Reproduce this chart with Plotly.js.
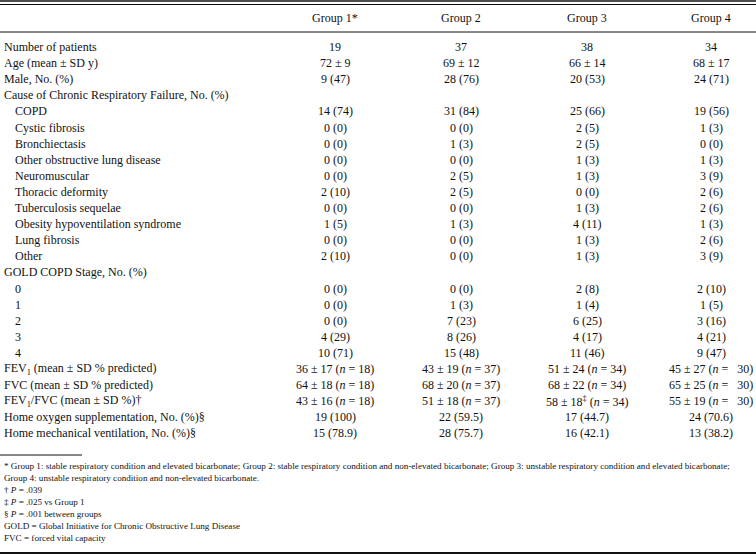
<!DOCTYPE html>
<html>
<head>
<meta charset="utf-8">
<script src="https://cdn.plot.ly/plotly-3.0.1.min.js"></script>
<style>html,body{margin:0;padding:0;background:#fff;}#chart{width:756px;height:555px;}</style>
</head>
<body>
<div id="chart"></div>
<script>
// ---------- DATA ----------
const groupHeaders = ['Group 1*', 'Group 2', 'Group 3', 'Group 4'];

const rowLabels = [
  'Number of patients',
  'Age (mean \u00b1 SD y)',
  'Male, No. (%)',
  'Cause of Chronic Respiratory Failure, No. (%)',
  'COPD',
  'Cystic fibrosis',
  'Bronchiectasis',
  'Other obstructive lung disease',
  'Neuromuscular',
  'Thoracic deformity',
  'Tuberculosis sequelae',
  'Obesity hypoventilation syndrome',
  'Lung fibrosis',
  'Other',
  'GOLD COPD Stage, No. (%)',
  '0',
  '1',
  '2',
  '3',
  '4',
  'FEV<sub>1</sub> (mean \u00b1 SD % predicted)',
  'FVC (mean \u00b1 SD % predicted)',
  'FEV<sub>1</sub>/FVC (mean \u00b1 SD %)\u2020',
  'Home oxygen supplementation, No. (%)\u00a7',
  'Home mechanical ventilation, No. (%)\u00a7'
];

// indented sub-rows belong to these two sections
const causeRows = ['COPD', 'Cystic fibrosis', 'Bronchiectasis', 'Other obstructive lung disease',
  'Neuromuscular', 'Thoracic deformity', 'Tuberculosis sequelae', 'Obesity hypoventilation syndrome',
  'Lung fibrosis', 'Other'];
const goldRows = ['0', '1', '2', '3', '4'];

const group1 = ['19', '72 \u00b1 9', '9 (47)', '',
  '14 (74)', '0 (0)', '0 (0)', '0 (0)', '0 (0)', '2 (10)', '0 (0)', '1 (5)', '0 (0)', '2 (10)',
  '', '0 (0)', '0 (0)', '0 (0)', '4 (29)', '10 (71)',
  '36 \u00b1 17 (<i>n</i> = 18)', '64 \u00b1 18 (<i>n</i> = 18)', '43 \u00b1 16 (<i>n</i> = 18)',
  '19 (100)', '15 (78.9)'];
const group2 = ['37', '69 \u00b1 12', '28 (76)', '',
  '31 (84)', '0 (0)', '1 (3)', '0 (0)', '2 (5)', '2 (5)', '0 (0)', '1 (3)', '0 (0)', '0 (0)',
  '', '0 (0)', '1 (3)', '7 (23)', '8 (26)', '15 (48)',
  '43 \u00b1 19 (<i>n</i> = 37)', '68 \u00b1 20 (<i>n</i> = 37)', '51 \u00b1 18 (<i>n</i> = 37)',
  '22 (59.5)', '28 (75.7)'];
const group3 = ['38', '66 \u00b1 14', '20 (53)', '',
  '25 (66)', '2 (5)', '2 (5)', '1 (3)', '1 (3)', '0 (0)', '1 (3)', '4 (11)', '1 (3)', '1 (3)',
  '', '2 (8)', '1 (4)', '6 (25)', '4 (17)', '11 (46)',
  '51 \u00b1 24 (<i>n</i> = 34)', '68 \u00b1 22 (<i>n</i> = 34)', '58 \u00b1 18<sup>\u2021</sup> (<i>n</i> = 34)',
  '17 (44.7)', '16 (42.1)'];
const group4 = ['34', '68 \u00b1 17', '24 (71)', '',
  '19 (56)', '1 (3)', '0 (0)', '1 (3)', '3 (9)', '2 (6)', '2 (6)', '1 (3)', '2 (6)', '3 (9)',
  '', '2 (10)', '1 (5)', '3 (16)', '4 (21)', '9 (47)',
  '45 \u00b1 27 (<i>n</i> =\u00a0\u00a0 30)', '65 \u00b1 25 (<i>n</i> =\u00a0\u00a0 30)', '55 \u00b1 19 (<i>n</i> =\u00a0\u00a0 30)',
  '24 (70.6)', '13 (38.2)'];

const footnotes = [
  '* Group 1: stable respiratory condition and elevated bicarbonate; Group 2: stable respiratory condition and non-elevated bicarbonate; Group 3: unstable respiratory condition and elevated bicarbonate;',
  'Group 4: unstable respiratory condition and non-elevated bicarbonate.',
  '\u2020 <i>P</i> = .039',
  '\u2021 <i>P</i> = .025 vs Group 1',
  '\u00a7 <i>P</i> = .001 between groups',
  'GOLD = Global Initiative for Chronic Obstructive Lung Disease',
  'FVC = forced vital capacity'
];

// ---------- LAYOUT CONFIG ----------
const W = 756, H = 555;
const colX = [335, 461, 587, 711];
const labelX = 2, indentX = 13;
const headerY = 18;
const rowY0 = 47, rowStep = 16.1;
const noteY0 = 466, noteStep = 12;
const FONT = 'Liberation Serif, Times New Roman, serif';
const INK = '#111111';
const MAIN = 12, NOTE = 9.1;

const groupVals = [group1, group2, group3, group4];
const annotations = [];

groupHeaders.forEach((g, j) => annotations.push({
  x: colX[j], y: headerY, text: g, xanchor: 'center', yanchor: 'middle',
  showarrow: false, font: {family: FONT, size: MAIN, color: INK}
}));

rowLabels.forEach((lab, i) => {
  const y = rowY0 + i * rowStep;
  const isSub = (causeRows.includes(lab) && i >= 4 && i <= 13) || (goldRows.includes(lab) && i >= 15 && i <= 19);
  annotations.push({
    x: isSub ? indentX : labelX, y: y, text: lab, xanchor: 'left', yanchor: 'middle',
    showarrow: false, font: {family: FONT, size: MAIN, color: INK}
  });
  groupVals.forEach((arr, j) => {
    if (arr[i]) annotations.push({
      x: colX[j], y: y, text: arr[i], xanchor: 'center', yanchor: 'middle',
      showarrow: false, font: {family: FONT, size: MAIN, color: INK}
    });
  });
});

footnotes.forEach((t, k) => annotations.push({
  x: labelX, y: noteY0 + k * noteStep, text: t, xanchor: 'left', yanchor: 'middle',
  showarrow: false, font: {family: FONT, size: NOTE, color: INK}
}));

const line = (x0, x1, y, w) => ({type: 'line', xref: 'x', yref: 'y', x0: x0, x1: x1, y0: y, y1: y,
  line: {color: INK, width: w}});
const shapes = [
  line(0, W, 1, 1.6),
  line(0, W, 4.5, 1),
  line(0, W, 32, 1),
  line(0, 82, 455, 1),
  line(0, W, 553, 2.2)
];

Plotly.newPlot('chart', [], {
  width: W, height: H,
  margin: {l: 0, r: 0, t: 0, b: 0},
  paper_bgcolor: '#ffffff', plot_bgcolor: '#ffffff',
  xaxis: {range: [0, W], visible: false, fixedrange: true},
  yaxis: {range: [H, 0], visible: false, fixedrange: true},
  showlegend: false,
  annotations: annotations,
  shapes: shapes
}, {staticPlot: true});
</script>
</body>
</html>
